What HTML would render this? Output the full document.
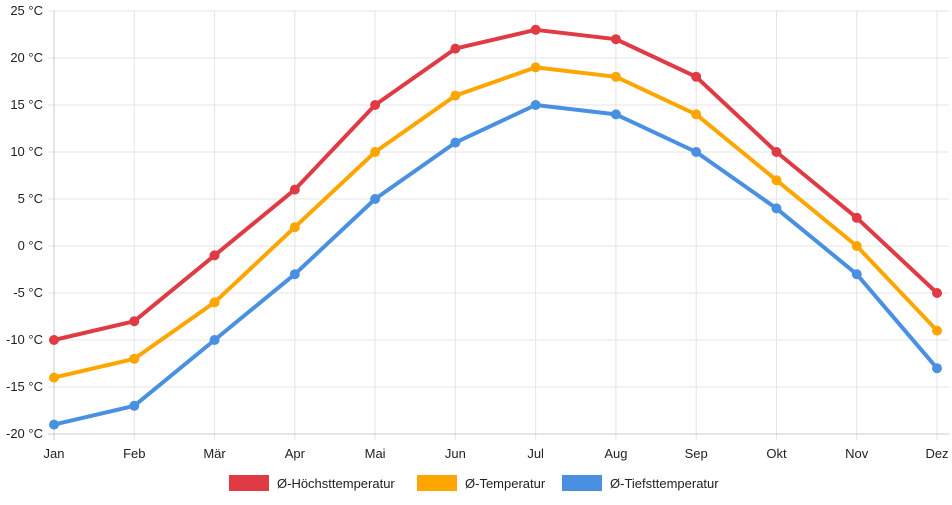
<!DOCTYPE html>
<html><head><meta charset="utf-8"><style>
body{margin:0;background:#fff;font-family:"Liberation Sans",sans-serif}
svg text{font-family:"Liberation Sans",sans-serif;font-size:13px;fill:#222}
</style></head><body>
<svg id="c" width="952" height="500"></svg>
<script>
const months=["Jan","Feb","Mär","Apr","Mai","Jun","Jul","Aug","Sep","Okt","Nov","Dez"];
const highTemps=[-10,-8,-1,6,15,21,23,22,18,10,3,-5];
const meanTemps=[-14,-12,-6,2,10,16,19,18,14,7,0,-9];
const lowTemps=[-19,-17,-10,-3,5,11,15,14,10,4,-3,-13];
const yTicks=[-20,-15,-10,-5,0,5,10,15,20,25];
const seriesNames=["Ø-Höchsttemperatur","Ø-Temperatur","Ø-Tiefsttemperatur"];
const NS="http://www.w3.org/2000/svg",svg=document.getElementById('c');
const x0=54,x1=937,yTop=11,yBot=434;
const xs=i=>x0+i*(x1-x0)/(months.length-1);
const ys=v=>yBot-(v+20)*(yBot-yTop)/45;
function mk(t,a,p){const e=document.createElementNS(NS,t);for(const k in a)e.setAttribute(k,a[k]);(p||svg).appendChild(e);return e;}
const grid=mk('g',{});


yTicks.forEach(v=>{
 mk('line',{x1:x0-6,x2:x1+12,y1:ys(v),y2:ys(v),stroke:'#e4e4e4'},grid);
 const t=mk('text',{x:43,y:ys(v)+4,'text-anchor':'end'});
 t.textContent=v+' °C';
 
 
});
months.forEach((m,i)=>{
 mk('line',{x1:xs(i),x2:xs(i),y1:yTop,y2:yBot+6,stroke:'#e4e4e4'},grid);
 const t=mk('text',{x:xs(i),y:458,'text-anchor':'middle'});
 t.textContent=m;
 
 
});
mk('line',{x1:x0,x2:x0,y1:yTop,y2:yBot+6,stroke:'#ccc'},grid);
mk('line',{x1:x0-6,x2:x1+12,y1:yBot,y2:yBot,stroke:'#ccc'},grid);
const cols=["#e03a45","#ffa500","#4a90e2"];
[highTemps,meanTemps,lowTemps].forEach((d,s)=>{
 const g=mk('g',{});
 
 
 mk('polyline',{points:d.map((v,i)=>xs(i)+','+ys(v)).join(' '),fill:'none',stroke:cols[s],'stroke-width':4,'stroke-linejoin':'round'},g);
 d.forEach((v,i)=>{const c=mk('circle',{cx:xs(i),cy:ys(v),r:5,fill:cols[s]},g);
  
  });
});
const lx=[229,417,562];
seriesNames.forEach((n,s)=>{
 const g=mk('g',{});
 
 
 mk('rect',{x:lx[s],y:475,width:40,height:16,fill:cols[s]},g);
 const t=mk('text',{x:lx[s]+48,y:488},g);t.textContent=n;
});
</script>
</body></html>
